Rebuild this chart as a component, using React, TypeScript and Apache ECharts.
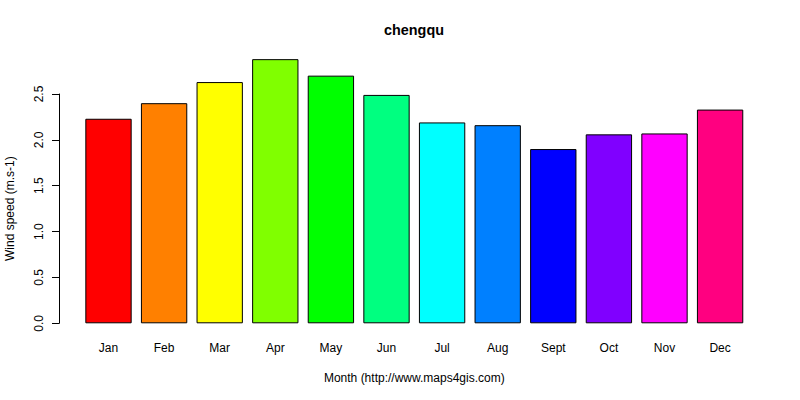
import React, { useEffect, useRef } from "react";
import * as echarts from "echarts";

const months = ["Jan", "Feb", "Mar", "Apr", "May", "Jun", "Jul", "Aug", "Sept", "Oct", "Nov", "Dec"];
const windSpeed = [2.23, 2.4, 2.63, 2.88, 2.7, 2.49, 2.19, 2.16, 1.9, 2.06, 2.07, 2.33];
const barColors = [
  "#FF0000", "#FF8000", "#FFFF00", "#80FF00", "#00FF00", "#00FF80",
  "#00FFFF", "#0080FF", "#0000FF", "#8000FF", "#FF00FF", "#FF0080",
];
const yTicks = [0, 0.5, 1, 1.5, 2, 2.5];

const FONT = "Liberation Sans, Arial, sans-serif";

export default function App() {
  const ref = useRef<HTMLDivElement>(null);
  useEffect(() => {
    if (!ref.current) return;
    const chart = echarts.init(ref.current, undefined, { renderer: "svg" });
    chart.setOption({
      animation: false,
      backgroundColor: "#ffffff",
      title: {
        text: "chengqu",
        left: 414,
        top: 23,
        padding: 0,
        textAlign: "center",
        textStyle: { fontFamily: FONT, fontSize: 14.4, fontWeight: "bold", color: "#000" },
      },
      grid: {
        left: 80.7,
        right: 52.1,
        top: 94,
        bottom: 76.7,
        containLabel: false,
        outerBoundsMode: "none",
      },
      xAxis: {
        type: "category",
        data: months,
        axisLine: { show: false },
        axisTick: { show: false },
        axisLabel: { margin: 19, fontFamily: FONT, fontSize: 12, color: "#000" },
        name: "Month (http://www.maps4gis.com)",
        nameLocation: "middle",
        nameGap: 49,
        nameTextStyle: { fontFamily: FONT, fontSize: 12, color: "#000" },
      },
      yAxis: {
        type: "value",
        min: yTicks[0],
        max: yTicks[yTicks.length - 1],
        interval: 0.5,
        offset: 21.7,
        axisLine: { show: true, lineStyle: { color: "#000", width: 1 } },
        axisTick: { show: true, length: 7, lineStyle: { color: "#000", width: 1 } },
        splitLine: { show: false },
        axisLabel: {
          rotate: 90,
          margin: 14,
          fontFamily: FONT,
          fontSize: 12,
          color: "#000",
          formatter: (v: number) => v.toFixed(1),
        },
        name: "Wind speed (m.s-1)",
        nameLocation: "middle",
        nameRotate: 90,
        nameGap: 43,
        nameTextStyle: { fontFamily: FONT, fontSize: 12, color: "#000" },
      },
      series: [
        {
          type: "bar",
          clip: false,
          barCategoryGap: "16.67%",
          data: windSpeed.map((v, i) => ({
            value: v,
            itemStyle: { color: barColors[i], borderColor: "#000", borderWidth: 1 },
          })),
        },
      ],
    });
    return () => chart.dispose();
  }, []);
  return (
    <div
      ref={ref}
      style={{ position: "fixed", left: 0, top: 0, width: 800, height: 400 }}
    />
  );
}
